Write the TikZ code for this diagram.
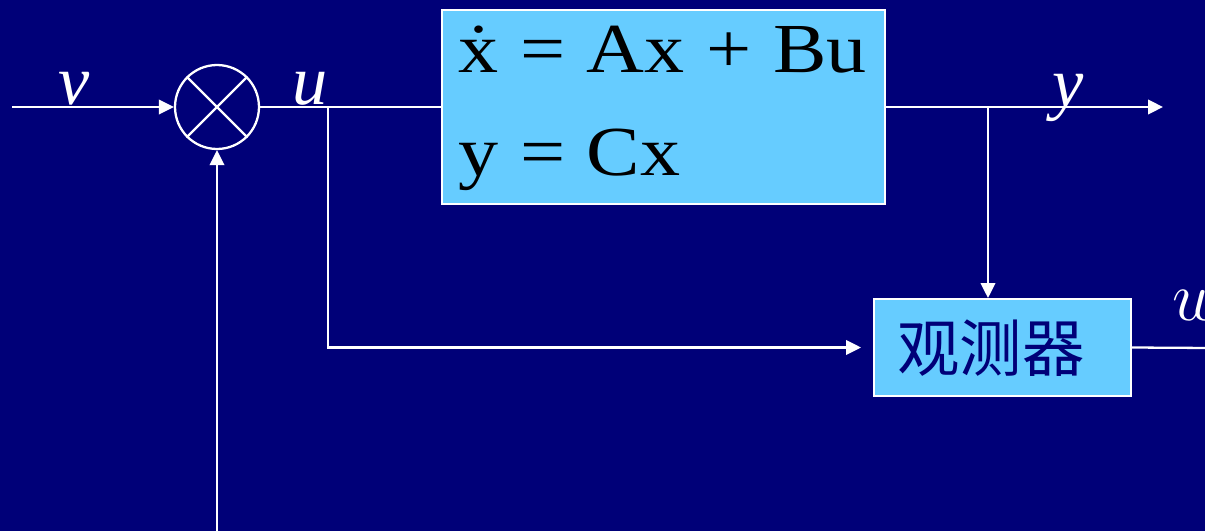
\documentclass[tikz,border=0pt]{standalone}
\usepackage{fontspec}
\setmainfont{Liberation Serif}
\newfontfamily\cjk{Noto Sans CJK SC}
\usetikzlibrary{arrows.meta}
\definecolor{bgnavy}{RGB}{0,0,120}
\definecolor{boxblue}{RGB}{102,204,255}
\newcommand{\eqsp}{\hspace{0.27em}}
\begin{document}
\begin{tikzpicture}[x=0.02cm,y=-0.02cm,
  wire/.style={draw=white,line width=1.3pt},
  arr/.style={wire,-{Triangle[length=0.3cm,width=0.29cm]}},
  blockbox/.style={draw=white,line width=1.1pt,fill=boxblue,inner sep=0pt},
  lbl/.style={text=white,font=\fontsize{40}{42}\selectfont\itshape,inner sep=0pt},
  eq/.style={text=black,font=\fontsize{40}{42}\selectfont,inner sep=0pt,anchor=base west}]
\fill[bgnavy] (0,0) rectangle (1205,531);
\useasboundingbox (0,0) rectangle (1205,531);
% blocks
\node[blockbox,minimum width=8.86cm,minimum height=3.88cm] (sys) at (663.5,107) {};
\node[blockbox,minimum width=5.14cm,minimum height=1.94cm] (obs) at (1002.5,347.5) {};
\node[eq] (eq1) at (458,72) {\scalebox{1.14}[1]{\.{x}\eqsp=\eqsp Ax\eqsp+\eqsp Bu}};
\node[eq] (eq2) at (458,175) {\scalebox{1.14}[1]{y\eqsp=\eqsp Cx}};
\node[text=bgnavy,font=\cjk\fontsize{35.5}{37}\selectfont,inner sep=0pt] (obstext) at (991,348) {观测器};
% summing junction
\node[draw=white,line width=1.3pt,circle,minimum size=1.68cm,inner sep=0pt] (sum) at (217,107) {};
\draw[wire] (sum.45) -- (sum.225) (sum.135) -- (sum.-45);
% coordinates
\coordinate (vin) at (12,107);
\coordinate (bu) at (328,107);
\coordinate (by) at (988,107);
\coordinate (yout) at (1163,107);
\coordinate (wout) at (1210,348);
\coordinate (fb) at (217,535);
% connectors
\draw[arr] (vin) -- (sum.west);
\draw[wire] (sum.east) -- (sys.west);
\draw[arr,shorten >=12*0.02cm] (bu) |- (obs.west);
\draw[arr] (sys.east) -- (yout);
\draw[arr] (by) -- (by |- obs.north);
\draw[wire] (obs.east) -- (wout);
\draw[arr] (fb) -- (sum.south);
% labels
\node[lbl,anchor=base] (lv) at (74,104) {v};
\node[lbl,anchor=base] (lu) at (310,104) {u};
\node[lbl,anchor=base] (ly) at (1068,106) {y};
\node[text=white,inner sep=0pt,anchor=base west,font=\fontsize{24}{26}\selectfont] (lw) at (1172,320) {\scalebox{1.6}{$w$}};
\end{tikzpicture}
\end{document}
